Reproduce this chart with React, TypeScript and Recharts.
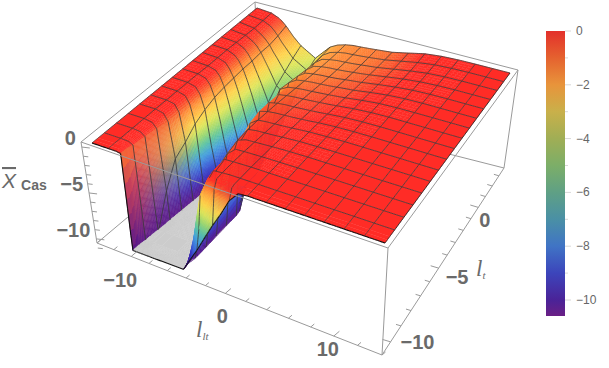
import { ScatterChart, Scatter, XAxis, YAxis, ReferenceArea } from "recharts";

const W = 609;
const H = 368;
const FLOOR = -10.7;

// grid of the surface (mesh lines sit every 1.75 / 0.875 units)
const llt = [-14, -12.25, -11.375, -10.9375, -10.5, -10.0625, -9.625, -8.75, -7, -5.25, -4.375, -3.5, -2.625, -1.75, -0.875, 0, 0.875, 1.75, 3.5, 5.25, 7, 8.75, 10.5, 12.25, 14];
const lt = [-10.5, -10.28125, -10.0625, -9.625, -8.75, -7.875, -7, -6.125, -5.25, -4.375, -3.5, -2.625, -1.75, -0.875, 0, 0.875, 1.75, 2.625, 3.5];

// z per row of lt (values under the floor get clipped)
const surfaceZ = [
  [0, 0, 0, -0.1, -24, -24, -20, -16, -13, -11, -9.5, -8, -6.3, -4.6, -3, -1.2, -0.1, 0, 0, 0, 0, 0, 0, 0, 0],
  [0, 0, 0, -0.1, -24, -24, -20, -16, -13, -11, -9, -6, -3, -1, -0.3, -0.1, 0, 0, 0, 0, 0, 0, 0, 0, 0],
  [0, 0, 0, -0.1, -22, -22, -20, -16, -14, -11, -7.5, -2.6, -0.4, -0.1, 0, 0, 0, 0, 0, 0, 0, 0, 0, 0, 0],
  [0, 0, -0.05, -0.3, -15, -15, -15, -15, -15, -12, -7, -2, -0.15, -0.05, 0, 0, 0, 0, 0, 0, 0, 0, 0, 0, 0],
  [0, 0, -0.1, -0.5, -11, -15, -15, -15, -15, -12, -6.5, -1.6, -0.1, -0.05, -0.02, 0, 0, 0, 0, 0, 0, 0, 0, 0, 0],
  [0, 0, -0.15, -0.7, -7.5, -22, -22, -18, -15, -12, -5, -1, -0.15, -0.1, -0.07, -0.05, -0.03, -0.02, 0, 0, 0, 0, 0, 0, 0],
  [0, 0, -0.2, -1, -5, -17, -17, -15, -14, -12, -3.5, -0.6, -0.25, -0.2, -0.15, -0.1, -0.06, -0.03, 0, 0, 0, 0, 0, 0, 0],
  [0, -0.03, -0.2, -1, -4.2, -13, -14, -14, -14, -12, -2.2, -0.5, -0.35, -0.3, -0.25, -0.18, -0.12, -0.06, -0.02, 0, 0, 0, 0, 0, 0],
  [0, -0.03, -0.3, -1.1, -3.2, -10.7, -13, -14, -14, -9, -1.2, -0.55, -0.45, -0.4, -0.35, -0.28, -0.2, -0.12, -0.05, 0, 0, 0, 0, 0, 0],
  [0, -0.05, -0.3, -1, -2.6, -6.5, -9.5, -11.5, -12, -7, -0.9, -0.65, -0.55, -0.5, -0.45, -0.38, -0.3, -0.2, -0.08, -0.02, 0, 0, 0, 0, 0],
  [0, -0.05, -0.3, -0.9, -2.2, -4.6, -7.5, -11, -11, -5, -0.95, -0.75, -0.65, -0.62, -0.55, -0.48, -0.4, -0.3, -0.12, -0.03, 0, 0, 0, 0, 0],
  [0, -0.1, -0.35, -0.9, -2, -3.8, -6, -10, -10.5, -3, -1.05, -0.9, -0.8, -0.75, -0.68, -0.6, -0.52, -0.42, -0.2, -0.06, 0, 0, 0, 0, 0],
  [0, -0.1, -0.4, -1, -1.9, -3.3, -5, -8.5, -9.5, -1.7, -1.2, -1.05, -0.95, -0.9, -0.82, -0.74, -0.65, -0.55, -0.3, -0.1, -0.02, 0, 0, 0, 0],
  [0, -0.1, -0.5, -1, -1.8, -3, -4.4, -7.5, -8.6, -1.9, -1.35, -1.2, -1.1, -1.05, -0.98, -0.88, -0.78, -0.7, -0.42, -0.18, -0.05, 0, 0, 0, 0],
  [0, -0.15, -0.6, -1.1, -1.8, -2.8, -3.8, -6, -7.6, -2.1, -1.5, -1.35, -1.25, -1.2, -1.12, -1, -0.9, -0.8, -0.52, -0.28, -0.1, -0.02, 0, 0, 0],
  [0, -0.2, -0.7, -1.1, -1.7, -2.5, -3.3, -5, -6.5, -2.3, -1.65, -1.45, -1.35, -1.3, -1.22, -1.12, -1.02, -0.9, -0.62, -0.35, -0.15, -0.04, 0, 0, 0],
  [0, -0.25, -0.8, -1.2, -1.7, -2.4, -3, -4.3, -5.5, -2.4, -1.75, -1.55, -1.42, -1.37, -1.3, -1.2, -1.1, -1, -0.7, -0.4, -0.15, -0.04, 0, 0, 0],
  [0, -0.2, -0.6, -1, -1.5, -2.1, -2.6, -3.6, -4.6, -2.4, -1.85, -1.6, -1.45, -1.4, -1.33, -1.25, -1.15, -1.05, -0.72, -0.38, -0.14, -0.04, 0, 0, 0],
  [0, -0.15, -0.5, -0.8, -1.2, -1.7, -2.2, -3, -4, -2.3, -1.85, -1.6, -1.45, -1.4, -1.33, -1.25, -1.17, -1.08, -0.7, -0.3, -0.1, -0.02, 0, 0, 0],
];

const zStops = [0, -0.3, -0.7, -1.1, -1.5, -2, -3, -4, -5, -6, -7, -8, -9, -10, -10.7];
const zColors = ["#ff2c26", "#ff2e28", "#fb4c2c", "#fb6e30", "#ff8f38", "#ffaa40", "#ffd44c", "#dfe65c", "#9cd870", "#5cc4a4", "#48a4dc", "#3f70dc", "#3a3cc4", "#4a1f9c", "#5c1a88"];

// the steep front of the left wall fades straight from orange to purple
const fadeStops = [0, -0.3, -1, -4, -7, -10.7];
const fadeColors = ["#ff2c26", "#ff2e28", "#f06a3a", "#c8405a", "#98306f", "#5c1a88"];

const barStops = [0, -1, -2, -3, -4, -5, -6, -7, -8, -9, -10, -10.6];
const barColors = ["#e3302b", "#e5622f", "#e8943b", "#c9b04a", "#a0ae55", "#7cae68", "#5fa085", "#4a90a5", "#4074c5", "#3c45bb", "#4a2398", "#6a1f85"];
const barTicks = [0, -1, -2, -3, -4, -5, -6, -7, -8, -9, -10];
const barLabels = [0, -2, -4, -6, -8, -10];

const zTicks = [0, -1, -2, -3, -4, -5, -6, -7, -8, -9, -10, -11];
const zLabels = [0, -5, -10];
const lltTicks = [-14, -12, -10, -8, -6, -4, -2, 0, 2, 4, 6, 8, 10, 12, 14];
const lltLabels = [-10, 0, 10];
const ltTicks = [-10, -9, -8, -7, -6, -5, -4, -3, -2, -1, 0, 1, 2, 3];
const ltLabels = [-10, -5, 0];

type P = [number, number];

// unit square -> screen quad, corners in order (0,0) (1,0) (1,1) (0,1)
function homography(q: P[]) {
  const [[x0, y0], [x1, y1], [x2, y2], [x3, y3]] = q;
  const dx1 = x1 - x2, dx2 = x3 - x2, dx3 = x0 - x1 + x2 - x3;
  const dy1 = y1 - y2, dy2 = y3 - y2, dy3 = y0 - y1 + y2 - y3;
  const det = dx1 * dy2 - dx2 * dy1;
  const g = (dx3 * dy2 - dx2 * dy3) / det;
  const h = (dx1 * dy3 - dx3 * dy1) / det;
  return (u: number, v: number): P => {
    const w = g * u + h * v + 1;
    return [
      ((x1 - x0 + g * x1) * u + (x3 - x0 + h * x3) * v + x0) / w,
      ((y1 - y0 + g * y1) * u + (y3 - y0 + h * y3) * v + y0) / w,
    ];
  };
}

const surfTop = homography([[92, 143], [385, 243], [510, 73], [257, 8]]);
const surfBottom = homography([[105, 240], [380, 343], [497, 165], [262, 103]]);
const boxTop = homography([[81, 142], [388, 248], [518, 70], [255, 2]]);
const boxBottom = homography([[97, 243], [382, 355], [504, 168], [260, 106]]);

const uOf = (l: number) => (l + 14) / 28;
const vOf = (l: number) => (l + 10.5) / 14;

function project(l: number, m: number, z: number): P {
  const t = Math.max(z, FLOOR) / FLOOR;
  const a = surfTop(uOf(l), vOf(m));
  const b = surfBottom(uOf(l), vOf(m));
  return [a[0] + (b[0] - a[0]) * t, a[1] + (b[1] - a[1]) * t];
}

const hexToRgb = (c: string) => [1, 3, 5].map((i) => parseInt(c.slice(i, i + 2), 16));

function ramp(stops: number[], colors: string[], z: number) {
  let i = 0;
  while (i < stops.length - 2 && z < stops[i + 1]) i++;
  const t = Math.min(1, Math.max(0, (stops[i] - z) / (stops[i] - stops[i + 1])));
  const a = hexToRgb(colors[i]);
  const b = hexToRgb(colors[i + 1]);
  return a.map((v, n) => v + (b[n] - v) * t);
}

function surfaceColor(z: number, l: number, m: number) {
  const rainbow = ramp(zStops, zColors, z);
  if (l > -7) return rainbow;
  const w = Math.min(1, Math.max(0, (m + 9.6) / 4.3));
  const fade = ramp(fadeStops, fadeColors, z);
  return rainbow.map((v, i) => fade[i] * (1 - w) + v * w);
}

const isMesh = (v: number, step: number, from: number) => Number.isInteger((v - from) / step);
const GREY = "#cccccc";

type Line = { a: P; b: P; stroke: string; width: number };
type Cell = { x: number; y: number; polys: { pts: P[]; fill: string }[]; lines: Line[] };
type Corner = { s: number; t: number; z: number };

// keeps the part of a facet above (or under) the floor
function clipFloor(quad: Corner[], above: boolean) {
  const inside = (c: Corner) => (above ? c.z > FLOOR : c.z <= FLOOR);
  const out: Corner[] = [];
  quad.forEach((a, i) => {
    const b = quad[(i + 1) % quad.length];
    if (inside(a)) out.push(a);
    if (inside(a) !== inside(b)) {
      const f = (FLOOR - a.z) / (b.z - a.z);
      out.push({ s: a.s + (b.s - a.s) * f, t: a.t + (b.t - a.t) * f, z: FLOOR });
    }
  });
  return out;
}

function buildCell(r: number, c: number): { fill: Cell; mesh: Cell } {
  const zz = [surfaceZ[r][c], surfaceZ[r][c + 1], surfaceZ[r + 1][c + 1], surfaceZ[r + 1][c]];
  const zAt = (s: number, t: number) => (zz[0] * (1 - s) + zz[1] * s) * (1 - t) + (zz[3] * (1 - s) + zz[2] * s) * t;
  const lAt = (s: number) => llt[c] + (llt[c + 1] - llt[c]) * s;
  const mAt = (t: number) => lt[r] + (lt[r + 1] - lt[r]) * t;
  const at = (s: number, t: number): P => project(lAt(s), mAt(t), zAt(s, t));
  const [ox, oy] = at(0, 0);
  const offset = (p: P): P => [p[0] - ox, p[1] - oy];
  const toScreen = (q: Corner) => offset(project(lAt(q.s), mAt(q.t), q.z));
  const span = Math.max(...zz) - Math.min(...zz);
  const n = span < 0.01 ? 1 : span > 6 ? 14 : span > 1.5 ? 8 : 4;
  const polys: Cell["polys"] = [];
  for (let i = 0; i < n; i++) {
    for (let j = 0; j < n; j++) {
      const s = (i + 0.5) / n;
      const t = (j + 0.5) / n;
      const quad: Corner[] = [
        [i / n, j / n],
        [(i + 1) / n, j / n],
        [(i + 1) / n, (j + 1) / n],
        [i / n, (j + 1) / n],
      ].map(([a, b]) => ({ s: a, t: b, z: zAt(a, b) }));
      const top = clipFloor(quad, true);
      const under = clipFloor(quad, false);
      if (under.length > 2) polys.push({ pts: under.map(toScreen), fill: GREY });
      if (top.length > 2) {
        const rgb = surfaceColor(Math.max(zAt(s, t), FLOOR), lAt(s), mAt(t)).map(Math.round);
        polys.push({ pts: top.map(toScreen), fill: `rgb(${rgb.join(",")})` });
      }
    }
  }

  const lines: Line[] = [];
  // a mesh edge, cut where it runs along the clipped floor
  const addLine = (s0: number, t0: number, s1: number, t1: number, stroke: string, width: number, keepFloor = false) => {
    const steps = 8;
    for (let i = 0; i < steps; i++) {
      const sa = s0 + ((s1 - s0) * i) / steps, ta = t0 + ((t1 - t0) * i) / steps;
      const sb = s0 + ((s1 - s0) * (i + 1)) / steps, tb = t0 + ((t1 - t0) * (i + 1)) / steps;
      if (!keepFloor && zAt(sa, ta) <= FLOOR && zAt(sb, tb) <= FLOOR) continue;
      lines.push({ a: offset(at(sa, ta)), b: offset(at(sb, tb)), stroke, width });
    }
  };
  if (isMesh(llt[c], 1.75, -14)) addLine(0, 0, 0, 1, "#3a3a3a", 0.8);
  if (c === llt.length - 2) addLine(1, 0, 1, 1, "#222", 0.9);
  if (r === 0) addLine(0, 0, 1, 0, "#111", 1.1, true);
  if (isMesh(lt[r + 1], 0.875, -10.5)) addLine(0, 1, 1, 1, "#3a3a3a", 0.8);
  return { fill: { x: ox, y: oy, polys, lines: [] }, mesh: { x: ox, y: oy, polys: [], lines } };
}

// far rows first, so nearer rows paint over them; mesh of a row after its fills
const cells: Cell[] = [];
for (let r = lt.length - 2; r >= 0; r--) {
  const row = llt.slice(0, -1).map((_, c) => buildCell(r, c));
  row.forEach((b) => cells.push(b.fill));
  row.forEach((b) => cells.push(b.mesh));
}

function CellShape(props: any) {
  const { cx, cy, payload } = props;
  const pt = (p: P) => `${(cx + p[0]).toFixed(1)},${(cy + p[1]).toFixed(1)}`;
  return (
    <g>
      {payload.polys.map((f: any, i: number) => (
        <polygon key={i} points={f.pts.map(pt).join(" ")} fill={f.fill} stroke={f.fill} strokeWidth={0.4} />
      ))}
      {payload.lines.map((l: any, i: number) => (
        <line key={i} x1={cx + l.a[0]} y1={cy + l.a[1]} x2={cx + l.b[0]} y2={cy + l.b[1]} stroke={l.stroke} strokeWidth={l.width} />
      ))}
    </g>
  );
}

const NoDot = () => <g />;
const toPt = (p: P) => ({ x: p[0], y: p[1] });

function seg(key: string, a: P, b: P, stroke = "#9a9a9a", width = 1) {
  return (
    <Scatter
      key={key}
      data={[toPt(a), toPt(b)]}
      line={{ stroke, strokeWidth: width }}
      shape={NoDot}
      isAnimationActive={false}
    />
  );
}

const minus = (v: number) => (v < 0 ? `\u2212${-v}` : `${v}`);

function labelShape(anchor: string, size: number, color: string, weight: string) {
  return (props: any) => (
    <text
      x={props.cx}
      y={props.cy}
      textAnchor={anchor}
      dominantBaseline="central"
      fontFamily="Liberation Sans"
      fontSize={size}
      fontWeight={weight}
      fill={color}
    >
      {props.payload.text}
    </text>
  );
}

const AxisLabel = labelShape("end", 20, "#6a6a6a", "bold");
const AxisLabelMid = labelShape("middle", 20, "#6a6a6a", "bold");
const AxisLabelStart = labelShape("start", 20, "#6a6a6a", "bold");
const BarLabel = labelShape("start", 12, "#666666", "normal");

const zT = (z: number) => (0.55 - z) / 11;
const zPos = (z: number): P => {
  const a = boxTop(0, 0);
  const b = boxBottom(0, 0);
  const t = zT(z);
  return [a[0] + (b[0] - a[0]) * t, a[1] + (b[1] - a[1]) * t];
};
const lltPos = (l: number) => boxBottom(uOf(l), 0);
const ltPos = (l: number) => boxBottom(1, vOf(l) * 0.96 + 0.02);
const barY = (v: number) => 31 + (-v * 269) / 10;

const lltLabelShift: P[] = [[-11, 24], [-3, 23], [-6, 13]];
const ltLabelShift: P[] = [[10, 0], [7, 9], [1, 13]];

function AxisTitles(props: any) {
  const { cx, cy, payload } = props;
  if (payload.kind === "z") {
    return (
      <text x={cx} y={cy} fontFamily="Liberation Sans" fill="#6a6a6a">
        <tspan fontSize={21} fontStyle="italic" style={{ textDecoration: "overline" }}>X</tspan>
        <tspan fontSize={14} fontWeight="bold" dx={5} dy={2}>Cas</tspan>
      </text>
    );
  }
  return (
    <text x={cx} y={cy} fontFamily="Liberation Serif" fill="#6a6a6a" fontStyle="italic">
      <tspan fontSize={23}>l</tspan>
      <tspan fontSize={11} dy={3}>{payload.sub}</tspan>
    </text>
  );
}

export default function App() {
  return (
    <div style={{ position: "absolute", left: 0, top: 0, width: W, height: H }}>
      <ScatterChart width={W} height={H} margin={{ top: 0, right: 0, bottom: 0, left: 0 }}>
        <defs>
          <linearGradient id="barGrad" x1="0" y1="0" x2="0" y2="1">
            {barStops.map((s, i) => (
              <stop key={s} offset={-s / 10.6} stopColor={barColors[i]} />
            ))}
          </linearGradient>
        </defs>
        <XAxis type="number" dataKey="x" domain={[0, W]} hide />
        <YAxis type="number" dataKey="y" domain={[0, H]} reversed hide />

        {/* back of the box */}
        {seg("b1", boxTop(0, 0), boxTop(0, 1))}
        {seg("b2", boxTop(0, 1), boxTop(1, 1))}
        {seg("b3", boxBottom(0, 0), boxBottom(0, 1))}
        {seg("b4", boxBottom(0, 1), boxBottom(1, 1))}
        {seg("b5", boxTop(0, 1), boxBottom(0, 1))}

        <Scatter data={cells} shape={CellShape} isAnimationActive={false} />

        {/* front of the box */}
        {seg("f1", boxTop(0, 0), boxTop(1, 0))}
        {seg("f2", boxTop(1, 0), boxTop(1, 1))}
        {seg("f3", boxBottom(0, 0), boxBottom(1, 0))}
        {seg("f4", boxBottom(1, 0), boxBottom(1, 1))}
        {seg("f5", boxTop(0, 0), boxBottom(0, 0))}
        {seg("f6", boxTop(1, 0), boxBottom(1, 0))}
        {seg("f7", boxTop(1, 1), boxBottom(1, 1))}

        {zTicks.map((z) => {
          const p = zPos(z);
          const len = zLabels.includes(z) ? 8 : 5;
          return seg(`zt${z}`, p, [p[0] + len, p[1] + len * 0.12]);
        })}
        {lltTicks.map((l) => {
          const p = lltPos(l);
          const len = lltLabels.includes(l) ? 8 : 5;
          return seg(`lt${l}`, p, [p[0] + len * 0.7, p[1] - len * 0.6]);
        })}
        {ltTicks.map((l) => {
          const p = ltPos(l);
          const len = ltLabels.includes(l) ? 8 : 5;
          return seg(`rt${l}`, p, [p[0] - len, p[1] - len * 0.3]);
        })}

        <Scatter
          data={zLabels.map((z) => ({ x: zPos(z)[0] - 6, y: zPos(z)[1] - 9, text: minus(z) }))}
          shape={AxisLabel}
          isAnimationActive={false}
        />
        <Scatter
          data={lltLabels.map((l, i) => ({ x: lltPos(l)[0] + lltLabelShift[i][0], y: lltPos(l)[1] + lltLabelShift[i][1], text: minus(l) }))}
          shape={AxisLabelMid}
          isAnimationActive={false}
        />
        <Scatter
          data={ltLabels.map((l, i) => ({ x: ltPos(l)[0] + ltLabelShift[i][0], y: ltPos(l)[1] + ltLabelShift[i][1], text: minus(l) }))}
          shape={AxisLabelStart}
          isAnimationActive={false}
        />
        <Scatter
          data={[
            { x: 2, y: 188, kind: "z" },
            { x: 196, y: 337, kind: "l", sub: "lt" },
            { x: 476, y: 276, kind: "l", sub: "t" },
          ]}
          shape={AxisTitles}
          isAnimationActive={false}
        />

        {/* colour bar */}
        <ReferenceArea x1={546} x2={565} y1={31} y2={316} fill="url(#barGrad)" fillOpacity={1} stroke="none" />
        {barTicks.map((v) => seg(`bt${v}`, [565, barY(v)], [barLabels.includes(v) ? 571 : 568, barY(v)], "#d8d8d8"))}
        <Scatter
          data={barLabels.map((v) => ({ x: 576, y: barY(v), text: minus(v) }))}
          shape={BarLabel}
          isAnimationActive={false}
        />
      </ScatterChart>
    </div>
  );
}
